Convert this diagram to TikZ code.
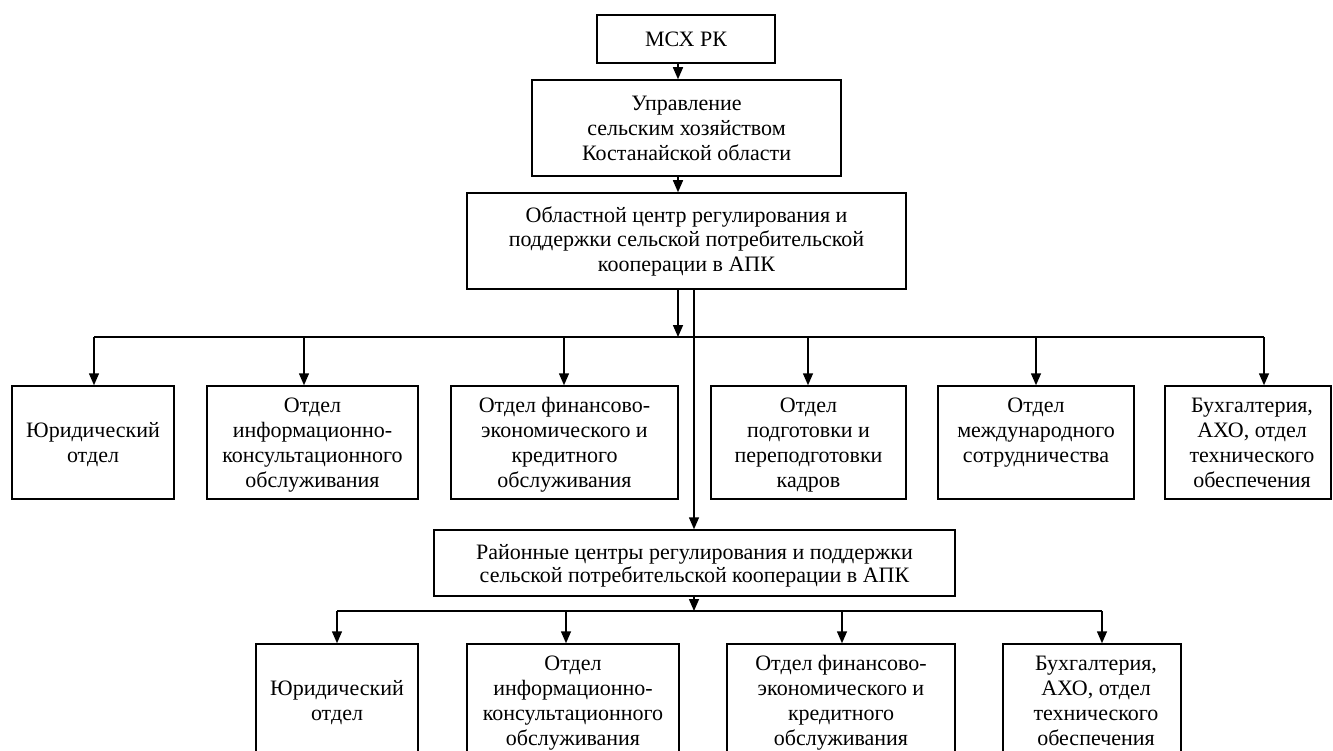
\documentclass[tikz,border=0pt]{standalone}
\usepackage{fontspec}
\setmainfont{Liberation Serif}
\usetikzlibrary{arrows.meta}
\begin{document}
\begin{tikzpicture}[x=1pt,y=-1pt,
  box/.style={draw, line width=1.5pt, rectangle, inner sep=0pt, align=center,
    font=\fontsize{22}{25}\selectfont},
  rowbox/.style={box, text depth=-5pt},
  lowbox/.style={box, text depth=-15pt},
  arr/.style={line width=1.5pt, -{Triangle[length=12pt,width=10pt]}},
  ln/.style={line width=1.5pt}]
\fill[white] (0,0) rectangle (1333,751);
\useasboundingbox (0,0) rectangle (1333,751);

% top chain
\node[box, minimum width=178, minimum height=48] (msx) at (686,39) {МСХ РК};
\node[box, minimum width=309, minimum height=96] (upr) at (686.5,128)
  {Управление\\сельским хозяйством\\Костанайской области};
\node[box, minimum width=439, minimum height=96, font=\fontsize{22}{24.5}\selectfont] (obl) at (686.5,241)
  {Областной центр регулирования и\\поддержки сельской потребительской\\кооперации в АПК};

\coordinate (s1) at (678,0);
\coordinate (s2) at (694,0);
\draw[arr] (msx.south -| s1) -- (upr.north -| s1);
\draw[arr] (upr.south -| s1) -- (obl.north -| s1);

% upper row
\node[rowbox, minimum width=162, minimum height=113] (u1) at (93,442.5) {Юридический\\отдел};
\node[rowbox, minimum width=211, minimum height=113] (u2) at (312.5,442.5)
  {Отдел\\информационно-\\консультационного\\обслуживания};
\node[rowbox, minimum width=227, minimum height=113] (u3) at (564.5,442.5)
  {Отдел финансово-\\экономического и\\кредитного\\обслуживания};
\node[rowbox, minimum width=195, minimum height=113] (u4) at (808.5,442.5)
  {Отдел\\подготовки и\\переподготовки\\кадров};
\node[rowbox, minimum width=196, minimum height=113] (u5) at (1036,442.5)
  {Отдел\\международного\\сотрудничества\\\phantom{x}};
\node[rowbox, minimum width=166, minimum height=113] (u6) at (1248,442.5)
  {\hspace*{8pt}Бухгалтерия,\\\hspace*{8pt}АХО, отдел\\\hspace*{8pt}технического\\\hspace*{8pt}обеспечения};

% upper bus
\coordinate (t1) at (94,337);
\coordinate (t2) at (304,337);
\coordinate (t3) at (564,337);
\coordinate (t4) at (808,337);
\coordinate (t5) at (1036,337);
\coordinate (t6) at (1264,337);
\draw[ln] (t1) -- (t6);
\draw[arr] (obl.south -| s1) -- (t1 -| s1);
\foreach \i in {1,...,6} {\draw[arr] (t\i) -- (u\i.north -| t\i);}

% district centres
\node[box, minimum width=521, minimum height=66, font=\fontsize{22}{23}\selectfont, text depth=-2pt] (ray) at (694.5,563)
  {Районные центры регулирования и поддержки\\сельской потребительской кооперации в АПК};
\draw[arr] (obl.south -| s2) -- (ray.north -| s2);

% lower row
\node[lowbox, minimum width=162, minimum height=113] (l1) at (337,700.5) {Юридический\\отдел};
\node[lowbox, minimum width=212, minimum height=113] (l2) at (573,700.5)
  {Отдел\\информационно-\\консультационного\\обслуживания};
\node[lowbox, minimum width=228, minimum height=113] (l3) at (841,700.5)
  {Отдел финансово-\\экономического и\\кредитного\\обслуживания};
\node[lowbox, minimum width=178, minimum height=113] (l4) at (1092,700.5)
  {\hspace*{8pt}Бухгалтерия,\\\hspace*{8pt}АХО, отдел\\\hspace*{8pt}технического\\\hspace*{8pt}обеспечения};

\coordinate (b1) at (337,611);
\coordinate (b2) at (566,611);
\coordinate (b3) at (842,611);
\coordinate (b4) at (1102,611);
\draw[ln] (b1) -- (b4);
\draw[arr] (ray.south -| s2) -- (b1 -| s2);
\foreach \i in {1,...,4} {\draw[arr] (b\i) -- (l\i.north -| b\i);}
\end{tikzpicture}
\end{document}
